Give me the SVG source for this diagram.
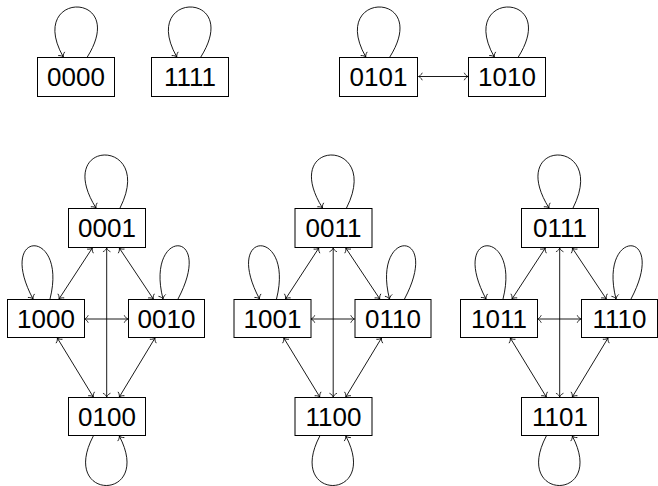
<svg xmlns="http://www.w3.org/2000/svg" width="658" height="486" viewBox="0 0 658 486">
<defs>
<marker id="to" markerUnits="userSpaceOnUse" viewBox="-6 -5 8 10" refX="0" refY="0" markerWidth="8" markerHeight="10" orient="auto-start-reverse">
<path d="M-3.6,-3.4 C-2.6,-1.3 -0.9,-0.3 0,0 C-0.9,0.3 -2.6,1.3 -3.6,3.4" fill="none" stroke="#000" stroke-width="0.8" stroke-linecap="round"/>
</marker>
</defs>
<style>
.box{fill:#fff;stroke:#000;stroke-width:1}
.lbl{font-family:"Liberation Sans",Arial,sans-serif;font-size:26px;fill:#000;text-anchor:middle}
.e{fill:none;stroke:#000;stroke-width:0.9}
.d{marker-start:url(#to);marker-end:url(#to)}
.l{marker-end:url(#to)}
</style>
<rect width="658" height="486" fill="#fff"/>

<g id="connectors">
  <!-- top row -->
  <path class="e l" d="M87.3,57 C129.3,-9.7 25.5,-9.7 63.3,57"/>
  <path class="e l" d="M200.8,57 C242.8,-9.7 139,-9.7 176.8,57"/>
  <path class="e l" d="M389.8,57 C431.8,-9.7 328,-9.7 365.8,57"/>
  <path class="e l" d="M518.3,57 C560.3,-9.7 456.5,-9.7 494.3,57"/>
  <path class="e d" d="M418.5,76.5 L468,76.5"/>
  <!-- clusters -->
  <g id="cluster1">
    <path class="e l" d="M120,208 C155.8,137.3 52,137.3 96,208"/>
    <path class="e l" d="M50,299 C68,228 -4.6,228 33,299"/>
    <path class="e l" d="M178,299 C215.6,228 145,228 163,299"/>
    <path class="e l" d="M93.3,436 C58.6,502 154,502 119.3,436"/>
    <path class="e d" d="M92.3,248 L59,299"/>
    <path class="e d" d="M119.3,248 L153.3,299"/>
    <path class="e d" d="M106.7,248 L106.7,397"/>
    <path class="e d" d="M84.5,319 L128,319"/>
    <path class="e d" d="M57.3,338 L93.3,397"/>
    <path class="e d" d="M155,338 L119.3,397"/>
  </g>
  <g id="cluster2" transform="translate(226.5,0)">
    <path class="e l" d="M120,208 C155.8,137.3 52,137.3 96,208"/>
    <path class="e l" d="M50,299 C68,228 -4.6,228 33,299"/>
    <path class="e l" d="M178,299 C215.6,228 145,228 163,299"/>
    <path class="e l" d="M93.3,436 C58.6,502 154,502 119.3,436"/>
    <path class="e d" d="M92.3,248 L59,299"/>
    <path class="e d" d="M119.3,248 L153.3,299"/>
    <path class="e d" d="M106.7,248 L106.7,397"/>
    <path class="e d" d="M84.5,319 L128,319"/>
    <path class="e d" d="M57.3,338 L93.3,397"/>
    <path class="e d" d="M155,338 L119.3,397"/>
  </g>
  <g id="cluster3" transform="translate(453,0)">
    <path class="e l" d="M120,208 C155.8,137.3 52,137.3 96,208"/>
    <path class="e l" d="M50,299 C68,228 -4.6,228 33,299"/>
    <path class="e l" d="M178,299 C215.6,228 145,228 163,299"/>
    <path class="e l" d="M93.3,436 C58.6,502 154,502 119.3,436"/>
    <path class="e d" d="M92.3,248 L59,299"/>
    <path class="e d" d="M119.3,248 L153.3,299"/>
    <path class="e d" d="M106.7,248 L106.7,397"/>
    <path class="e d" d="M84.5,319 L128,319"/>
    <path class="e d" d="M57.3,338 L93.3,397"/>
    <path class="e d" d="M155,338 L119.3,397"/>
  </g>
</g>

<g id="n0000"><rect class="box" x="37.5" y="57.5" width="77" height="39"/><text class="lbl" x="76" y="86">0000</text></g>
<g id="n1111"><rect class="box" x="151.5" y="57.5" width="77" height="39"/><text class="lbl" x="190" y="86">1111</text></g>
<g id="n0101"><rect class="box" x="339.5" y="57.5" width="78" height="39"/><text class="lbl" x="378.5" y="86">0101</text></g>
<g id="n1010"><rect class="box" x="468.5" y="57.5" width="77" height="39"/><text class="lbl" x="507" y="86">1010</text></g>

<g id="n0001"><rect class="box" x="68.5" y="208.5" width="77" height="39"/><text class="lbl" x="107" y="237">0001</text></g>
<g id="n1000"><rect class="box" x="7.5" y="299.5" width="77" height="38"/><text class="lbl" x="46" y="328">1000</text></g>
<g id="n0010"><rect class="box" x="128.5" y="299.5" width="76" height="38"/><text class="lbl" x="166.5" y="328">0010</text></g>
<g id="n0100"><rect class="box" x="68.5" y="397.5" width="77" height="38"/><text class="lbl" x="107" y="426">0100</text></g>

<g id="n0011" transform="translate(226.5,0)"><rect class="box" x="68.5" y="208.5" width="77" height="39"/><text class="lbl" x="107" y="237">0011</text></g>
<g id="n1001" transform="translate(226.5,0)"><rect class="box" x="7.5" y="299.5" width="77" height="38"/><text class="lbl" x="46" y="328">1001</text></g>
<g id="n0110" transform="translate(226.5,0)"><rect class="box" x="128.5" y="299.5" width="76" height="38"/><text class="lbl" x="166.5" y="328">0110</text></g>
<g id="n1100" transform="translate(226.5,0)"><rect class="box" x="68.5" y="397.5" width="77" height="38"/><text class="lbl" x="107" y="426">1100</text></g>

<g id="n0111" transform="translate(453,0)"><rect class="box" x="68.5" y="208.5" width="77" height="39"/><text class="lbl" x="107" y="237">0111</text></g>
<g id="n1011" transform="translate(453,0)"><rect class="box" x="7.5" y="299.5" width="77" height="38"/><text class="lbl" x="46" y="328">1011</text></g>
<g id="n1110" transform="translate(453,0)"><rect class="box" x="128.5" y="299.5" width="76" height="38"/><text class="lbl" x="166.5" y="328">1110</text></g>
<g id="n1101" transform="translate(453,0)"><rect class="box" x="68.5" y="397.5" width="77" height="38"/><text class="lbl" x="107" y="426">1101</text></g>
</svg>
